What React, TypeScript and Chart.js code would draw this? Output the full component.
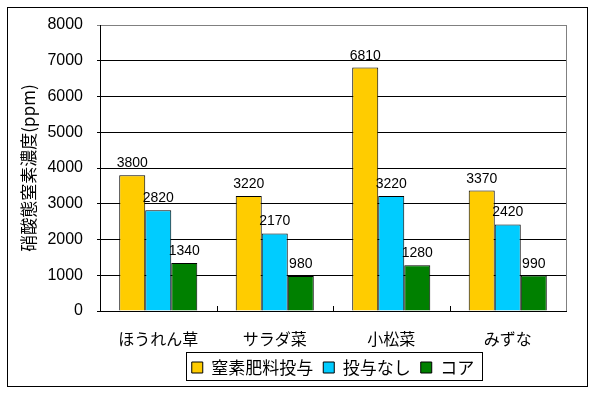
import React, { useEffect, useRef } from "react";
import { Chart, registerables } from "chart.js";

Chart.register(...registerables);

const categories = ["ほうれん草", "サラダ菜", "小松菜", "みずな"];
const seriesNames = ["窒素肥料投与", "投与なし", "コア"];
const fertilized = [3800, 3220, 6810, 3370];
const noFertilizer = [2820, 2170, 3220, 2420];
const core = [1340, 980, 1280, 990];
const seriesColors = ["#FFCC00", "#00CCFF", "#008000"];
const yTitle = "硝酸態窒素濃度(ppm)";
const yMin = 0;
const yMax = 8000;
const yStep = 1000;

const CJK = '"Noto Sans CJK JP", "Noto Sans", sans-serif';
const LAT = '"Liberation Sans", Arial, sans-serif';

const framePlugin = {
  id: "frame",
  beforeDraw(chart: any) {
    const { ctx, width, height } = chart;
    ctx.save();
    ctx.fillStyle = "#ffffff";
    ctx.fillRect(0, 0, width, height);
    ctx.strokeStyle = "#000000";
    ctx.lineWidth = 1;
    ctx.strokeRect(7.5, 7.5, width - 15, height - 15);
    ctx.restore();
  },
  beforeDatasetsDraw(chart: any) {
    const { ctx, chartArea } = chart;
    ctx.save();
    ctx.strokeStyle = "#808080";
    ctx.lineWidth = 1;
    ctx.beginPath();
    ctx.moveTo(Math.round(chartArea.right) + 0.5, chartArea.top);
    ctx.lineTo(Math.round(chartArea.right) + 0.5, chartArea.bottom);
    ctx.stroke();
    const n = chart.data.labels.length;
    const w = (chartArea.right - chartArea.left) / n;
    ctx.strokeStyle = "#000000";
    ctx.beginPath();
    for (let i = 1; i < n; i++) {
      const x = Math.round(chartArea.left + i * w) + 0.5;
      ctx.moveTo(x, chartArea.bottom);
      ctx.lineTo(x, chartArea.bottom - 5);
    }
    ctx.stroke();
    ctx.restore();
  },
  afterDatasetsDraw(chart: any) {
    const { ctx } = chart;
    ctx.save();
    ctx.fillStyle = "#000000";
    ctx.font = `14px ${LAT}`;
    ctx.textAlign = "center";
    ctx.textBaseline = "alphabetic";
    chart.data.datasets.forEach((ds: any, di: number) => {
      const meta = chart.getDatasetMeta(di);
      meta.data.forEach((bar: any, i: number) => {
        ctx.fillText(String(ds.data[i]), bar.x, bar.y - 8);
      });
    });
    ctx.restore();
  },
  afterDraw(chart: any) {
    const legend = chart.legend;
    if (!legend || !legend.legendHitBoxes || !legend.legendHitBoxes.length) return;
    const hb = legend.legendHitBoxes;
    let l = Infinity, r = -Infinity, t = Infinity, b = -Infinity;
    hb.forEach((h: any) => {
      l = Math.min(l, h.left);
      r = Math.max(r, h.left + h.width);
      t = Math.min(t, h.top);
      b = Math.max(b, h.top + h.height);
    });
    const { ctx } = chart;
    ctx.save();
    ctx.strokeStyle = "#000000";
    ctx.lineWidth = 1;
    ctx.strokeRect(Math.round(l - 6) + 0.5, Math.round(t - 7) + 0.5, Math.round(r - l + 14), Math.round(b - t + 11));
    ctx.restore();
  },
};

export default function App() {
  const canvasRef = useRef<HTMLCanvasElement | null>(null);

  useEffect(() => {
    document.body.style.margin = "0";
    const canvas = canvasRef.current;
    if (!canvas) return;
    const dataSets = [fertilized, noFertilizer, core];
    const chart = new Chart(canvas, {
      type: "bar",
      data: {
        labels: categories,
        datasets: dataSets.map((d, i) => ({
          label: seriesNames[i],
          data: d,
          backgroundColor: seriesColors[i],
          borderColor: "#000000",
          borderWidth: 1,
          categoryPercentage: 0.67,
          barPercentage: 1,
        })),
      },
      options: {
        responsive: false,
        animation: false,
        devicePixelRatio: 1,
        layout: { padding: { left: 12, top: 25, right: 29, bottom: 8 } },
        plugins: {
          tooltip: { enabled: false },
          legend: {
            position: "bottom",
            fullSize: false,
            labels: {
              boxWidth: 11,
              boxHeight: 11,
              padding: 10,
              color: "#000000",
              font: { family: CJK, size: 17 },
            },
          },
        },
        scales: {
          x: {
            grid: { display: false },
            border: { display: true, color: "#000000", width: 1 },
            ticks: { color: "#000000", padding: 10, font: { family: CJK, size: 16 } },
            afterFit(scale: any) {
              scale.height = 38;
            },
          },
          y: {
            min: yMin,
            max: yMax,
            ticks: {
              stepSize: yStep,
              color: "#000000",
              padding: 14,
              font: { family: LAT, size: 16 },
              callback: (v: any) => String(v),
            },
            grid: {
              color: (c: any) => (c.tick && c.tick.value === yMax ? "#808080" : "#000000"),
              lineWidth: 1,
              tickLength: 3,
            },
            border: { display: true, color: "#000000", width: 1 },
            title: {
              display: true,
              text: yTitle,
              color: "#000000",
              padding: { top: 6, bottom: 0 },
              font: { family: CJK, size: 17 },
            },
            afterFit(scale: any) {
              scale.width = 88;
            },
          },
        },
      },
      plugins: [framePlugin],
    });
    return () => chart.destroy();
  }, []);

  return (
    <div style={{ width: 595, height: 394 }}>
      <canvas ref={canvasRef} width={595} height={394} style={{ display: "block" }} />
    </div>
  );
}
